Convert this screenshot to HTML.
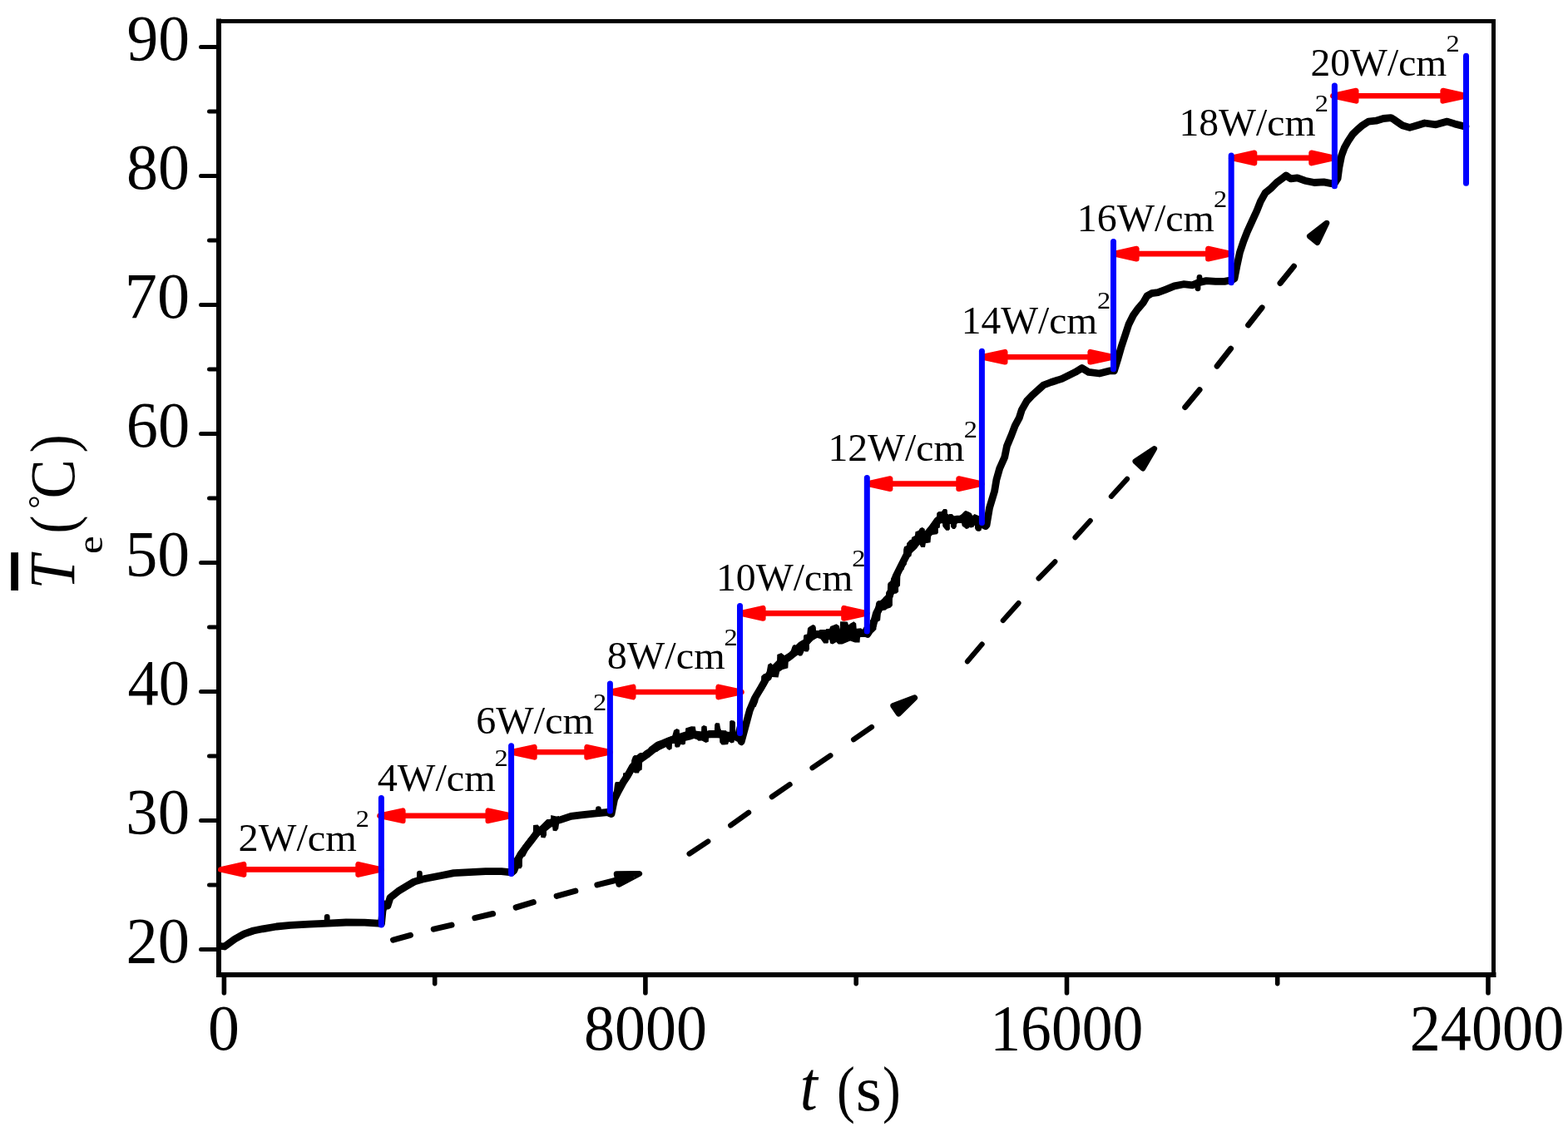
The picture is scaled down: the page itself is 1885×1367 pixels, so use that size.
<!DOCTYPE html>
<html><head><meta charset="utf-8"><style>html,body{margin:0;padding:0;background:#fff;overflow:hidden}svg{display:block}</style></head>
<body><svg width="1885" height="1367" viewBox="0 0 1885 1367">
<rect width="100%" height="100%" fill="#fff"/>
<g stroke="#000" fill="none" stroke-linecap="square">
<line x1="263" y1="25.5" x2="1795.5" y2="25.5" stroke-width="5"/>
<line x1="263" y1="1172" x2="1795.5" y2="1172" stroke-width="6"/>
<line x1="263" y1="25.5" x2="263" y2="1172" stroke-width="6"/>
<line x1="1795.5" y1="25.5" x2="1795.5" y2="1172" stroke-width="5"/>
</g>
<g stroke="#000" stroke-linecap="round">
<line x1="241.5" y1="1141.5" x2="262" y2="1141.5" stroke-width="5"/>
<line x1="251.5" y1="1064.0" x2="262" y2="1064.0" stroke-width="5"/>
<line x1="241.5" y1="986.5" x2="262" y2="986.5" stroke-width="5"/>
<line x1="251.5" y1="909.0" x2="262" y2="909.0" stroke-width="5"/>
<line x1="241.5" y1="831.5" x2="262" y2="831.5" stroke-width="5"/>
<line x1="251.5" y1="754.0" x2="262" y2="754.0" stroke-width="5"/>
<line x1="241.5" y1="676.5" x2="262" y2="676.5" stroke-width="5"/>
<line x1="251.5" y1="599.0" x2="262" y2="599.0" stroke-width="5"/>
<line x1="241.5" y1="521.5" x2="262" y2="521.5" stroke-width="5"/>
<line x1="251.5" y1="444.0" x2="262" y2="444.0" stroke-width="5"/>
<line x1="241.5" y1="366.5" x2="262" y2="366.5" stroke-width="5"/>
<line x1="251.5" y1="289.0" x2="262" y2="289.0" stroke-width="5"/>
<line x1="241.5" y1="211.5" x2="262" y2="211.5" stroke-width="5"/>
<line x1="251.5" y1="134.0" x2="262" y2="134.0" stroke-width="5"/>
<line x1="241.5" y1="56.5" x2="262" y2="56.5" stroke-width="5"/>
<line x1="269.4" y1="1173" x2="269.4" y2="1193.8" stroke-width="5.6"/>
<line x1="522.7" y1="1173" x2="522.7" y2="1182.6" stroke-width="5.6"/>
<line x1="775.9" y1="1173" x2="775.9" y2="1193.8" stroke-width="5.6"/>
<line x1="1029.2" y1="1173" x2="1029.2" y2="1182.6" stroke-width="5.6"/>
<line x1="1282.5" y1="1173" x2="1282.5" y2="1193.8" stroke-width="5.6"/>
<line x1="1535.7" y1="1173" x2="1535.7" y2="1182.6" stroke-width="5.6"/>
<line x1="1789.0" y1="1173" x2="1789.0" y2="1193.8" stroke-width="5.6"/>
</g>
<path d="M265.5,1137.5 L270.0,1138.0 L282.3,1129.0 L293.4,1122.9 L304.6,1119.0 L315.7,1116.8 L332.4,1114.0 L349.1,1112.3 L371.4,1111.2 L393.7,1110.1 L416.0,1109.0 L438.3,1109.2 L455.0,1110.1 L458.5,1110.5 L460.0,1095.0 L462.4,1087.0 L466.0,1089.0 L469.1,1079.2 L478.7,1071.6 L488.2,1065.8 L497.8,1060.1 L507.3,1057.2 L516.9,1055.3 L531.2,1052.5 L545.5,1049.6 L564.6,1048.7 L583.7,1047.7 L602.8,1047.7 L612.4,1048.7 L615.0,1049.0 L618.0,1046.5 L620.5,1040.0 L623.0,1033.0 L626.0,1027.0 L631.2,1020.0 L636.7,1013.0 L640.5,1008.0 L645.0,1002.0 L650.0,998.0 L655.0,995.0 L662.3,989.0 L674.4,985.4 L686.4,981.4 L698.5,979.8 L714.6,978.2 L730.7,976.5 L733.5,978.0 L735.0,978.5 L738.6,960.8 L743.3,951.3 L749.0,940.8 L754.7,932.2 L760.4,921.8 L768.0,914.2 L777.5,907.5 L787.0,899.9 L796.5,895.2 L806.0,890.4 L815.6,886.6 L825.1,883.8 L834.6,882.8 L844.1,883.8 L853.6,882.8 L863.1,882.8 L872.6,883.8 L882.1,884.7 L889.7,888.5 L891.2,891.7 L896.2,873.0 L901.2,854.3 L907.4,839.4 L914.8,827.0 L921.1,815.8 L928.5,805.9 L937.2,797.1 L947.2,790.9 L957.1,783.5 L965.8,776.0 L974.5,766.1 L982.0,762.3 L990.7,764.8 L1003.1,764.8 L1015.6,763.6 L1028.0,762.3 L1040.4,761.1 L1042.9,762.5 L1049.5,752.0 L1053.4,737.5 L1058.7,727.0 L1067.9,720.4 L1073.2,704.6 L1077.1,692.7 L1083.7,679.5 L1090.3,666.4 L1096.9,654.5 L1106.1,646.6 L1114.0,642.7 L1120.6,634.8 L1127.2,625.6 L1135.1,620.3 L1143.0,625.6 L1150.9,624.2 L1160.1,624.2 L1170.6,625.6 L1177.2,630.8 L1181.2,630.8 L1184.8,632.5 L1186.1,631.0 L1189.5,610.7 L1195.6,590.4 L1197.9,576.8 L1201.7,563.3 L1207.7,549.8 L1210.5,536.2 L1216.1,522.7 L1220.2,511.9 L1225.3,502.4 L1228.3,492.9 L1234.4,482.1 L1240.9,475.3 L1248.4,468.5 L1254.5,463.0 L1263.7,459.5 L1276.6,455.4 L1292.7,447.4 L1300.7,442.5 L1308.8,447.4 L1321.7,449.0 L1334.5,445.8 L1338.0,445.5 L1339.4,445.9 L1343.8,431.6 L1348.2,416.3 L1352.6,403.1 L1356.9,390.0 L1362.4,379.0 L1367.9,371.3 L1374.5,363.6 L1378.9,355.9 L1384.4,352.7 L1392.0,351.6 L1400.8,348.3 L1411.8,343.9 L1422.8,341.7 L1433.7,342.8 L1440.0,340.0 L1450.2,337.6 L1461.2,338.4 L1472.1,338.4 L1477.6,337.3 L1480.5,337.0 L1484.0,335.0 L1487.3,318.0 L1490.5,303.4 L1495.0,289.8 L1499.5,278.4 L1505.2,265.9 L1510.9,253.5 L1515.4,242.1 L1521.1,231.9 L1527.9,226.3 L1534.7,219.5 L1541.5,214.4 L1546.0,211.0 L1551.7,214.9 L1559.6,213.8 L1568.7,217.2 L1580.0,219.5 L1591.4,218.9 L1600.4,220.6 L1604.0,221.0 L1608.1,214.7 L1609.9,201.2 L1612.6,187.6 L1616.2,177.7 L1620.7,169.6 L1626.1,161.5 L1631.6,156.1 L1637.9,150.7 L1645.1,146.1 L1654.1,145.2 L1663.1,142.5 L1672.1,141.6 L1676.6,144.3 L1685.7,150.7 L1694.7,153.4 L1703.7,150.7 L1712.7,148.0 L1726.2,149.8 L1739.8,146.1 L1748.8,148.9 L1758.7,151.6 L1762.0,152.0" fill="none" stroke="#000" stroke-width="8.8" stroke-linejoin="round" stroke-linecap="round"/>
<g stroke="#000" stroke-width="6.8" stroke-linecap="round">
<line x1="393.2" y1="1110.1" x2="393.2" y2="1102.4"/>
<line x1="504.4" y1="1058.1" x2="504.4" y2="1050.1"/>
<line x1="719.4" y1="977.7" x2="719.4" y2="972.7"/>
<line x1="1442.0" y1="339.5" x2="1442.0" y2="333.4"/>
<line x1="1440.0" y1="340.0" x2="1440.0" y2="346.8"/>
</g>
<polygon fill="#000" points="617.0,1034.0 618.0,1032.1 621.1,1027.7 626.0,1020.6 631.2,1012.9 635.0,1008.0 640.8,1001.4 641.1,992.1 646.6,991.5 648.5,994.0 654.2,988.2 657.5,984.9 662.2,984.9 662.2,980.0 669.0,981.6 672.0,981.1 672.0,991.0 671.2,996.5 669.0,999.2 664.7,998.7 664.1,994.3 661.4,994.3 657.0,995.9 657.0,1004.1 655.3,1007.4 650.4,1006.9 649.8,1003.6 644.9,1008.0 640.5,1014.0 636.7,1018.4 631.2,1029.4 627.9,1031.0 627.9,1041.4 626.3,1044.2 621.1,1044.2 620.8,1049.7 618.0,1051.3 617.0,1052.0"/>
<polygon fill="#000" points="737.0,953.3 738.0,950.5 739.0,942.2 740.1,940.1 746.0,940.1 746.7,938.0 748.8,935.2 749.1,929.6 750.9,928.9 752.9,928.9 754.3,925.5 756.4,921.3 758.9,918.5 759.2,914.0 760.9,909.5 762.7,908.1 765.5,908.1 767.9,906.0 769.6,905.0 772.4,905.0 775.2,902.5 778.7,900.4 780.8,898.0 784.2,895.6 787.7,892.8 790.0,891.4 795.0,889.7 795.0,899.8 790.0,903.9 786.3,904.6 783.5,908.1 778.7,909.5 776.6,911.6 773.1,912.9 772.1,916.4 771.7,925.5 768.9,926.9 767.9,929.6 763.4,929.6 760.9,927.9 759.9,931.7 757.1,934.5 754.3,938.7 751.6,944.2 747.0,948.4 746.0,954.0 742.5,959.5 739.0,962.3 738.7,978.3 737.0,980.4"/>
<polygon fill="#000" points="795.0,889.7 801.4,887.1 808.3,884.4 810.1,878.0 813.6,875.9 816.8,877.5 817.0,882.0 823.9,882.0 824.2,875.6 831.1,873.3 835.8,873.5 836.9,880.2 843.0,880.2 843.3,873.8 845.9,871.9 849.6,873.3 850.2,879.1 852.3,878.0 858.9,878.0 859.2,871.1 860.8,869.0 865.0,869.5 866.1,875.4 867.1,878.0 873.0,878.3 874.0,880.2 877.0,880.2 877.2,867.2 878.8,866.1 882.5,866.4 883.9,868.5 884.1,880.2 885.7,873.3 889.0,873.0 893.0,896.1 891.0,896.6 889.4,894.5 887.3,888.9 883.1,888.6 882.5,892.4 879.4,893.4 876.2,891.8 875.1,895.0 870.3,895.5 867.7,895.5 865.3,892.4 865.0,886.0 859.7,886.5 852.0,887.1 851.8,891.8 848.6,892.9 846.5,892.1 843.8,890.5 839.6,890.8 838.0,889.2 834.3,888.1 830.0,889.4 824.2,890.8 823.9,894.5 821.5,895.5 818.3,895.0 816.8,898.2 813.0,898.7 811.4,897.7 810.9,894.0 808.0,894.0 807.7,900.3 804.5,901.9 801.9,900.3 800.3,897.7 795.0,899.8"/>
<polygon fill="#000" points="901.1,850.0 902.7,843.1 905.9,834.1 909.1,829.9 912.3,824.6 914.9,822.4 915.2,812.9 918.1,810.2 921.3,809.7 923.2,799.1 926.6,797.0 930.3,800.7 934.0,797.0 934.3,786.9 939.3,785.0 943.1,788.0 946.8,785.8 948.0,785.5 950.9,781.9 952.1,778.2 953.3,775.8 955.7,775.0 956.5,775.8 960.1,772.2 963.3,770.2 965.8,769.0 966.2,764.1 967.4,762.9 970.2,762.5 971.0,755.3 972.2,753.9 975.4,752.1 977.4,750.9 979.8,752.1 980.8,754.3 981.0,758.1 984.7,758.1 985.5,756.9 992.7,756.9 993.5,756.1 997.1,756.1 998.4,752.9 1003.0,751.2 1005.4,750.3 1008.7,752.2 1009.7,756.7 1010.1,747.2 1018.7,747.6 1020.2,751.5 1021.6,750.0 1026.4,747.2 1029.2,749.6 1029.7,755.8 1035.0,755.3 1036.9,756.7 1038.8,753.4 1042.0,753.0 1042.0,766.0 1040.2,765.8 1034.0,766.0 1033.5,772.5 1027.8,772.5 1022.1,770.6 1017.3,772.5 1012.5,774.6 1007.8,774.4 1005.4,772.0 1001.1,774.6 998.4,773.8 997.5,771.0 997.1,766.2 996.3,766.2 995.9,772.2 995.1,773.4 990.3,773.4 987.1,769.0 984.7,766.0 981.4,766.0 979.8,768.2 977.4,769.8 975.0,771.8 972.8,774.2 973.0,780.6 971.4,783.5 968.2,783.5 966.6,782.7 965.8,785.1 964.1,788.3 961.3,788.7 958.1,786.7 952.9,791.9 948.9,795.0 947.8,794.9 947.3,803.3 940.9,804.9 937.2,807.6 935.6,814.5 928.2,814.0 927.1,817.1 924.0,819.3 921.8,823.5 917.6,830.4 912.3,837.8 911.2,843.7 908.6,850.0"/>
<polygon fill="#000" points="1046.0,746.0 1048.2,742.7 1049.1,739.9 1050.2,737.7 1051.8,733.9 1053.2,725.1 1054.3,722.9 1056.5,722.1 1059.8,722.9 1060.3,720.7 1062.2,718.0 1065.0,715.5 1065.2,712.0 1066.9,709.8 1067.2,702.1 1068.5,699.9 1070.7,698.8 1071.3,694.9 1073.5,692.2 1076.2,687.1 1078.1,683.4 1080.0,680.3 1081.2,675.9 1083.1,673.4 1084.3,670.9 1085.9,669.7 1086.2,660.4 1087.1,657.3 1089.9,656.0 1090.2,652.9 1093.7,649.2 1095.8,648.6 1096.1,646.1 1099.9,643.9 1100.5,639.2 1104.2,638.0 1106.1,634.9 1108.9,633.9 1111.7,636.1 1112.0,638.9 1113.6,638.9 1117.3,633.6 1119.2,629.9 1124.1,624.9 1126.0,621.8 1126.3,616.8 1128.5,615.0 1131.6,615.0 1132.0,614.9 1134.2,612.0 1137.7,612.0 1138.8,613.6 1139.0,618.0 1140.6,619.0 1141.2,618.0 1144.7,618.0 1147.0,620.6 1147.6,622.2 1148.2,621.1 1152.7,620.9 1153.6,620.0 1156.2,618.0 1158.1,616.1 1160.3,614.1 1161.9,614.2 1164.8,615.5 1167.6,617.1 1169.2,620.0 1171.5,618.0 1174.6,619.3 1176.9,620.3 1180.0,621.0 1180.1,634.0 1179.7,637.5 1177.8,638.7 1175.3,638.7 1173.4,637.8 1172.1,635.6 1171.9,631.1 1171.1,630.8 1170.8,633.6 1167.3,634.6 1165.4,634.0 1163.8,635.6 1161.3,635.9 1159.4,634.3 1156.8,632.4 1155.9,628.9 1151.4,628.9 1150.1,630.1 1149.8,633.6 1147.9,635.9 1145.4,635.9 1143.1,633.6 1142.8,629.8 1141.9,630.1 1141.9,636.2 1140.6,637.8 1137.4,637.8 1135.2,635.2 1133.3,632.7 1133.0,629.2 1132.0,629.2 1130.1,629.8 1129.8,634.6 1127.9,634.9 1127.9,640.5 1126.6,642.3 1121.0,643.0 1119.2,644.8 1118.5,652.3 1114.2,652.9 1112.9,652.9 1112.0,657.9 1107.3,657.9 1105.5,654.8 1101.7,659.8 1099.9,661.6 1096.1,664.7 1095.5,668.5 1093.0,670.3 1089.9,675.3 1089.9,678.4 1087.4,681.5 1086.8,684.6 1083.7,687.1 1082.8,690.2 1082.3,693.8 1082.0,704.3 1080.1,705.9 1080.1,711.4 1077.9,713.6 1074.6,714.1 1072.9,719.6 1072.9,727.9 1070.7,730.6 1066.3,732.0 1064.7,733.6 1060.9,733.9 1058.9,737.7 1058.1,746.0 1053.7,748.2 1053.4,756.7 1049.9,760.3 1046.0,761.4"/>
<g stroke="#000" stroke-linecap="round">
<line x1="472.6" y1="1130.1" x2="493.4" y2="1124.3" stroke-width="7.1"/>
<line x1="521.3" y1="1117.1" x2="543" y2="1112.1" stroke-width="7.1"/>
<line x1="570.9" y1="1103.6" x2="592.6" y2="1098.5" stroke-width="7.1"/>
<line x1="620.2" y1="1091" x2="641.3" y2="1084.7" stroke-width="7.1"/>
<line x1="669.2" y1="1077.3" x2="691.8" y2="1071.1" stroke-width="7.1"/>
<line x1="717.9" y1="1063.9" x2="741.4" y2="1058" stroke-width="7.1"/>
<line x1="828.7" y1="1026.5" x2="851.2" y2="1011.6" stroke-width="6.4"/>
<line x1="878.3" y1="992.3" x2="900" y2="976.9" stroke-width="6.4"/>
<line x1="927.9" y1="958" x2="949.5" y2="943.2" stroke-width="6.4"/>
<line x1="976.6" y1="923.2" x2="998.3" y2="908.4" stroke-width="6.4"/>
<line x1="1026.2" y1="889.1" x2="1047.9" y2="874.1" stroke-width="6.4"/>
<line x1="1163" y1="795.3" x2="1180.6" y2="774.5" stroke-width="6.2"/>
<line x1="1205.8" y1="746" x2="1224.5" y2="725.1" stroke-width="6.2"/>
<line x1="1248.6" y1="695.5" x2="1268.3" y2="675.3" stroke-width="6.2"/>
<line x1="1292.5" y1="646.2" x2="1310.7" y2="626" stroke-width="6.2"/>
<line x1="1335.9" y1="596.8" x2="1355" y2="575.9" stroke-width="6.2"/>
<line x1="1424.7" y1="489.6" x2="1442.1" y2="468.6" stroke-width="6.9"/>
<line x1="1463.1" y1="440.2" x2="1479.6" y2="419.2" stroke-width="6.9"/>
<line x1="1500.6" y1="390.8" x2="1517.1" y2="369.8" stroke-width="6.9"/>
<line x1="1539" y1="340.5" x2="1555.5" y2="320.1" stroke-width="6.9"/>
</g>
<g fill="#000" stroke="#000" stroke-width="7" stroke-linejoin="round">
<polygon points="768.6,1050.4 741.2,1050.7 743.9,1063.3"/>
<polygon stroke="none" points="770.1,1050.0 740.0,1049.8 743.3,1064.7"/>
<polygon points="1099.6,838.9 1073.8,848.6 1080.3,858.0"/>
<polygon stroke="none" points="1100.8,838.1 1072.4,848.1 1080.1,859.5"/>
<polygon points="1387.6,539.6 1365.0,554.7 1373.9,563.0"/>
<polygon stroke="none" points="1388.6,538.5 1363.5,554.5 1374.2,564.5"/>
<polygon points="1594.8,268.2 1574.5,284.1 1583.7,291.6"/>
<polygon stroke="none" points="1595.7,267.1 1573.0,284.1 1584.1,293.1"/>
</g>
<g fill="#ff0000" stroke="#ff0000" stroke-width="6.6" stroke-linejoin="round">
<line x1="293.1" y1="1045.4" x2="430.6" y2="1045.4"/>
<polygon points="265.3,1045.4 293.1,1039.2 293.1,1051.6"/>
<polygon points="458.4,1045.4 430.6,1039.2 430.6,1051.6"/>
<line x1="484.3" y1="980.7" x2="586.8" y2="980.7"/>
<polygon points="456.5,980.7 484.3,974.6 484.3,986.9"/>
<polygon points="614.6,980.7 586.8,974.6 586.8,986.9"/>
<line x1="642.4" y1="904.3" x2="705.6" y2="904.3"/>
<polygon points="614.6,904.3 642.4,898.1 642.4,910.4"/>
<polygon points="733.4,904.3 705.6,898.1 705.6,910.4"/>
<line x1="761.2" y1="832" x2="863.7" y2="832"/>
<polygon points="733.4,832 761.2,825.9 761.2,838.1"/>
<polygon points="891.5,832 863.7,825.9 863.7,838.1"/>
<line x1="917.3" y1="737.4" x2="1014.5" y2="737.4"/>
<polygon points="889.5,737.4 917.3,731.2 917.3,743.5"/>
<polygon points="1042.3,737.4 1014.5,731.2 1014.5,743.5"/>
<line x1="1070.1" y1="581.6" x2="1152.6" y2="581.6"/>
<polygon points="1042.3,581.6 1070.1,575.5 1070.1,587.8"/>
<polygon points="1180.4,581.6 1152.6,575.5 1152.6,587.8"/>
<line x1="1208.2" y1="429.2" x2="1310.7" y2="429.2"/>
<polygon points="1180.4,429.2 1208.2,423.1 1208.2,435.3"/>
<polygon points="1338.5,429.2 1310.7,423.1 1310.7,435.3"/>
<line x1="1366.3" y1="305.1" x2="1452.4" y2="305.1"/>
<polygon points="1338.5,305.1 1366.3,299.0 1366.3,311.2"/>
<polygon points="1480.2,305.1 1452.4,299.0 1452.4,311.2"/>
<line x1="1508.0" y1="189.9" x2="1576.6" y2="189.9"/>
<polygon points="1480.2,189.9 1508.0,183.8 1508.0,196.1"/>
<polygon points="1604.4,189.9 1576.6,183.8 1576.6,196.1"/>
<line x1="1630.2" y1="115.2" x2="1734.7" y2="115.2"/>
<polygon points="1602.4,115.2 1630.2,109.0 1630.2,121.4"/>
<polygon points="1762.5,115.2 1734.7,109.0 1734.7,121.4"/>
</g>
<g stroke="#0000ff" stroke-width="7" stroke-linecap="round">
<line x1="458.4" y1="959.6" x2="458.4" y2="1111.9"/>
<line x1="614.6" y1="896.7" x2="614.6" y2="1050.6"/>
<line x1="733.4" y1="822.1" x2="733.4" y2="975.1"/>
<line x1="889.5" y1="728.5" x2="889.5" y2="881.5"/>
<line x1="1042.3" y1="574.4" x2="1042.3" y2="758.9"/>
<line x1="1180.4" y1="422.2" x2="1180.4" y2="628.6"/>
<line x1="1338.5" y1="290.6" x2="1338.5" y2="443.7"/>
<line x1="1480.2" y1="187.0" x2="1480.2" y2="339.7"/>
<line x1="1604.4" y1="103.0" x2="1604.4" y2="223.7"/>
<line x1="1762.5" y1="67.3" x2="1762.5" y2="220.2"/>
</g>
<g font-family="Liberation Serif, serif" fill="#000">
<text x="286.5" y="1023.4" font-size="47.3" textLength="142.5" lengthAdjust="spacingAndGlyphs">2W/cm</text>
<text x="427.7" y="993.8" font-size="29" textLength="16.2" lengthAdjust="spacingAndGlyphs">2</text>
<text x="453.7" y="951.3" font-size="47.3" textLength="142.2" lengthAdjust="spacingAndGlyphs">4W/cm</text>
<text x="594.5" y="921.1" font-size="29" textLength="16.2" lengthAdjust="spacingAndGlyphs">2</text>
<text x="572.3" y="882.1" font-size="47.3" textLength="141.7" lengthAdjust="spacingAndGlyphs">6W/cm</text>
<text x="712.9" y="853.5" font-size="29" textLength="16.2" lengthAdjust="spacingAndGlyphs">2</text>
<text x="729.7" y="804.2" font-size="47.3" textLength="142.0" lengthAdjust="spacingAndGlyphs">8W/cm</text>
<text x="870.6" y="775.7" font-size="29" textLength="16.2" lengthAdjust="spacingAndGlyphs">2</text>
<text x="861.0" y="709.7" font-size="47.3" textLength="164.4" lengthAdjust="spacingAndGlyphs">10W/cm</text>
<text x="1024.3" y="681.2" font-size="29" textLength="16.2" lengthAdjust="spacingAndGlyphs">2</text>
<text x="995.4" y="553.7" font-size="47.3" textLength="164.1" lengthAdjust="spacingAndGlyphs">12W/cm</text>
<text x="1158.7" y="525.6" font-size="29" textLength="16.2" lengthAdjust="spacingAndGlyphs">2</text>
<text x="1155.8" y="400.5" font-size="47.3" textLength="163.5" lengthAdjust="spacingAndGlyphs">14W/cm</text>
<text x="1319.0" y="371.4" font-size="29" textLength="16.2" lengthAdjust="spacingAndGlyphs">2</text>
<text x="1294.7" y="278.1" font-size="47.3" textLength="165.2" lengthAdjust="spacingAndGlyphs">16W/cm</text>
<text x="1459.1" y="248.6" font-size="29" textLength="16.2" lengthAdjust="spacingAndGlyphs">2</text>
<text x="1417.4" y="163" font-size="47.3" textLength="164.2" lengthAdjust="spacingAndGlyphs">18W/cm</text>
<text x="1580.8" y="133.8" font-size="29" textLength="16.2" lengthAdjust="spacingAndGlyphs">2</text>
<text x="1575.4" y="90.9" font-size="47.3" textLength="163.9" lengthAdjust="spacingAndGlyphs">20W/cm</text>
<text x="1738.4" y="62.4" font-size="29" textLength="16.2" lengthAdjust="spacingAndGlyphs">2</text>
</g>
<g font-family="Liberation Serif, serif" fill="#000">
<text x="151.6" y="1157.1" font-size="78.5" textLength="76.5" lengthAdjust="spacingAndGlyphs">20</text>
<text x="151.3" y="1002.1" font-size="78.5" textLength="76.8" lengthAdjust="spacingAndGlyphs">30</text>
<text x="153.5" y="847.1" font-size="78.5" textLength="74.5" lengthAdjust="spacingAndGlyphs">40</text>
<text x="150.5" y="692.1" font-size="78.5" textLength="77.7" lengthAdjust="spacingAndGlyphs">50</text>
<text x="151.7" y="537.1" font-size="78.5" textLength="76.4" lengthAdjust="spacingAndGlyphs">60</text>
<text x="149.8" y="382.1" font-size="78.5" textLength="78.3" lengthAdjust="spacingAndGlyphs">70</text>
<text x="152.1" y="227.1" font-size="78.5" textLength="76.0" lengthAdjust="spacingAndGlyphs">80</text>
<text x="152.6" y="72.1" font-size="78.5" textLength="75.5" lengthAdjust="spacingAndGlyphs">90</text>
<text x="250.1" y="1262.1" font-size="78.5" textLength="37.9" lengthAdjust="spacingAndGlyphs">0</text>
<text x="702.1" y="1262.1" font-size="78.5" textLength="147.8" lengthAdjust="spacingAndGlyphs">8000</text>
<text x="1190.3" y="1262.1" font-size="78.5" textLength="184.0" lengthAdjust="spacingAndGlyphs">16000</text>
<text x="1694.7" y="1262.1" font-size="78.5" textLength="185.6" lengthAdjust="spacingAndGlyphs">24000</text>
</g>
<g font-family="Liberation Serif, serif">
<text x="961.7" y="1334.2" font-size="84" font-style="italic" textLength="21.00" lengthAdjust="spacingAndGlyphs">t</text>
<text x="1006.0" y="1335" font-size="76" textLength="21.77" lengthAdjust="spacingAndGlyphs">(</text>
<text x="1028.7" y="1335" font-size="76" textLength="31.05" lengthAdjust="spacingAndGlyphs">s</text>
<text x="1060.9" y="1335" font-size="76" textLength="21.77" lengthAdjust="spacingAndGlyphs">)</text>
</g>
<g transform="translate(88.7,0) rotate(-90)" font-family="Liberation Serif, serif">
<text x="-708.5" y="0" font-size="77.7" font-style="italic" textLength="40.62" lengthAdjust="spacingAndGlyphs">T</text>
<text x="-666.1" y="34.7" font-size="44.5" textLength="21.73" lengthAdjust="spacingAndGlyphs">e</text>
<text x="-641.6" y="0" font-size="75.5" textLength="21.87" lengthAdjust="spacingAndGlyphs">(</text>
<text x="-611.8" y="-26.5" font-size="40.9" textLength="16.36" lengthAdjust="spacingAndGlyphs">°</text>
<text x="-599.5" y="0" font-size="77" textLength="47.25" lengthAdjust="spacingAndGlyphs">C</text>
<text x="-544.2" y="0" font-size="75.5" textLength="21.87" lengthAdjust="spacingAndGlyphs">)</text>
</g>
<rect x="13.2" y="664.2" width="8.8" height="45.7" fill="#000"/>
</svg></body></html>
